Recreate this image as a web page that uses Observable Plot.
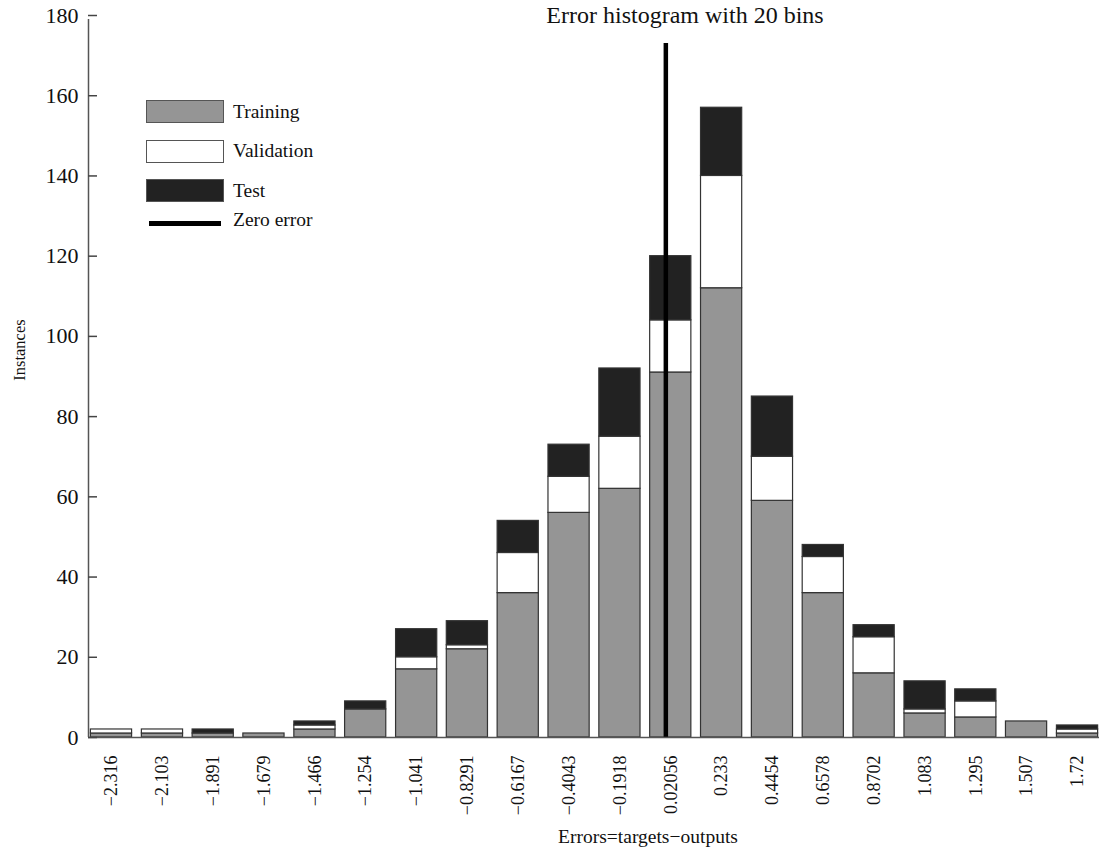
<!DOCTYPE html>
<html>
<head>
<meta charset="utf-8">
<script src="https://cdn.jsdelivr.net/npm/d3@7"></script>
<script src="https://cdn.jsdelivr.net/npm/@observablehq/plot@0.6"></script>
<style>
  html, body { margin: 0; padding: 0; background: #fff; }
  #wrap { position: relative; width: 1099px; height: 850px; font-family: "Liberation Serif", "Times New Roman", serif; color: #111; }
  .ov { position: absolute; white-space: nowrap; }
  #legend { position: absolute; left: 146px; top: 92px; }
  #legend .row { display: flex; align-items: center; height: 39.5px; }
  #legend .sw { width: 78px; height: 23px; box-sizing: border-box; border: 1.5px solid #555; margin-right: 9px; }
  #legend .ln { width: 72px; height: 5px; background: #000; margin: 0 12px 0 3px; }
  #legend span { font-size: 19.5px; }
</style>
</head>
<body>
<div id="wrap">
  <div id="chart"></div>
  <div class="ov" id="title" style="left:685px; top:2px; transform:translateX(-50%); font-size:24px;">Error histogram with 20 bins</div>
  <div class="ov" style="left:20px; top:350px; transform:translate(-50%,-50%) rotate(-90deg); font-size:16.5px;">Instances</div>
  <div class="ov" style="left:648px; top:826px; transform:translateX(-50%); font-size:19.5px;">Errors=targets−outputs</div>
  <div id="legend"></div>
</div>
<script>
// Bin centre labels (as printed)
const binLabels = ["−2.316","−2.103","−1.891","−1.679","−1.466","−1.254","−1.041","−0.8291","−0.6167","−0.4043","−0.1918","0.02056","0.233","0.4454","0.6578","0.8702","1.083","1.295","1.507","1.72"];
// Instances per bin
const training   = [1,1,1,1,2,7,17,22,36,56,62,91,112,59,36,16,6,5,4,1];
const validation = [1,1,0,0,1,0,3,1,10,9,13,13,28,11,9,9,1,4,0,1];
const test       = [0,0,1,0,1,2,7,6,8,8,17,16,17,15,3,3,7,3,0,1];
const seriesNames = ["Training","Validation","Test"];
const seriesColors = ["#959595","#ffffff","#222222"];
const yTicks = [0,20,40,60,80,100,120,140,160,180];
const zeroErrorTop = 173;

const centers = binLabels.map(s => +s.replace("−","-"));
const binWidth = (centers[centers.length-1] - centers[0]) / (centers.length - 1);
const half = binWidth * 0.405;

const rows = [];
centers.forEach((c, i) => {
  let acc = 0;
  [training, validation, test].forEach((arr, k) => {
    const v = arr[i];
    if (v > 0) rows.push({c, series: seriesNames[k], y1: acc, y2: acc + v});
    acc += v;
  });
});

const xMin = centers[0] - binWidth * 0.452;
const xMax = centers[centers.length-1] + binWidth * 0.432;
const labelOf = new Map(centers.map((c, i) => [c, binLabels[i]]));

const chart = Plot.plot({
  width: 1099,
  height: 850,
  marginLeft: 88,
  marginRight: 0,
  marginTop: 15,
  marginBottom: 113,
  style: {fontFamily: "'Liberation Serif', 'Times New Roman', serif", color: "#111", background: "#fff"},
  x: {domain: [xMin, xMax], axis: null},
  y: {domain: [0, 180], axis: null},
  color: {domain: seriesNames, range: seriesColors},
  marks: [
    Plot.rect(rows, {x1: d => d.c - half, x2: d => d.c + half, y1: "y1", y2: "y2", fill: "series", stroke: "#333", strokeWidth: 1.2}),
    Plot.ruleX([0], {y1: 0, y2: zeroErrorTop, stroke: "#000", strokeWidth: 4.5}),
    Plot.ruleY([0], {stroke: "#555", strokeWidth: 1.5}),
    Plot.ruleX([xMin], {y1: 0, y2: 179, stroke: "#555", strokeWidth: 1.5}),
    Plot.ruleY(yTicks, {x1: xMin, x2: xMin, insetRight: -9, stroke: "#444", strokeWidth: 1.5}),
    Plot.axisY({ticks: yTicks, tickSize: 0, tickPadding: 10, fontSize: 22, label: null}),
    Plot.axisX({ticks: centers, tickFormat: d => labelOf.get(d), tickRotate: -90, tickSize: 0, tickPadding: 18, fontSize: 18, label: null})
  ]
});
document.getElementById("chart").appendChild(chart);

// Legend
const legend = document.getElementById("legend");
seriesNames.forEach((name, k) => {
  const row = document.createElement("div");
  row.className = "row";
  row.innerHTML = `<div class="sw" style="background:${seriesColors[k]}"></div><span>${name}</span>`;
  legend.appendChild(row);
});
const zr = document.createElement("div");
zr.className = "row";
zr.style.height = "26px";
zr.innerHTML = `<div class="ln"></div><span style="position:relative;top:-4px">Zero error</span>`;
legend.appendChild(zr);
</script>
</body>
</html>
